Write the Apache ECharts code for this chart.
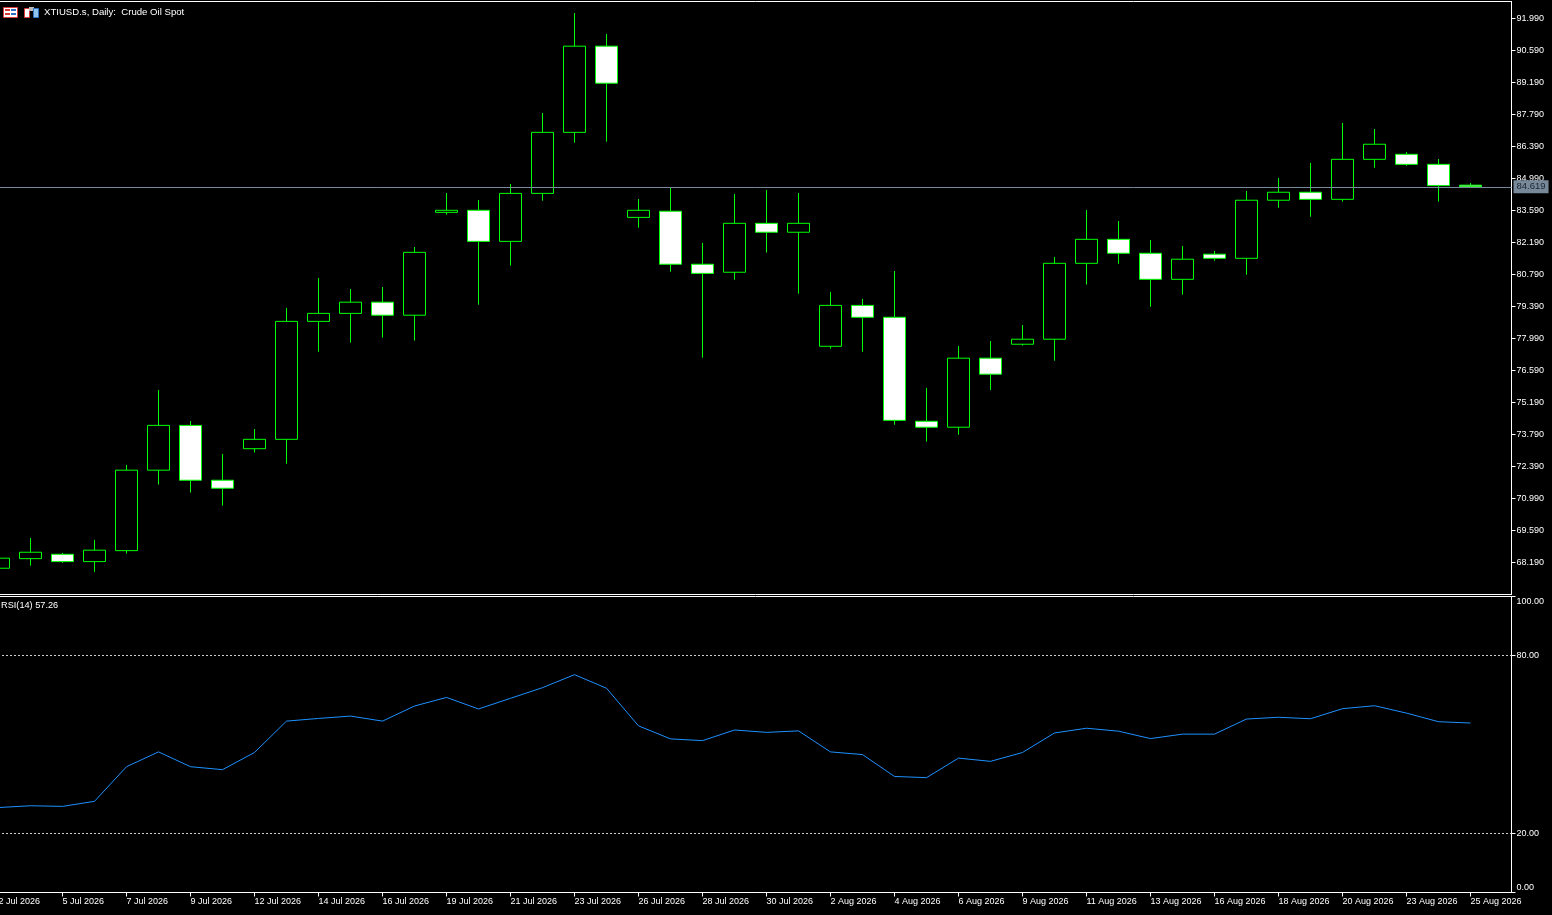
<!DOCTYPE html>
<html>
<head>
<meta charset="utf-8">
<script src="https://cdn.jsdelivr.net/npm/echarts@6/dist/echarts.min.js"></script>
<style>
  html, body { margin: 0; padding: 0; background: #000; }
  #c { width: 1552px; height: 915px; }
</style>
</head>
<body>
<div id="c"></div>
<script>
// ---- data ----
const dates = ['2 Jul 2026','3 Jul 2026','5 Jul 2026','6 Jul 2026','7 Jul 2026','8 Jul 2026','9 Jul 2026','10 Jul 2026',
  '12 Jul 2026','13 Jul 2026','14 Jul 2026','15 Jul 2026','16 Jul 2026','17 Jul 2026','19 Jul 2026','20 Jul 2026',
  '21 Jul 2026','22 Jul 2026','23 Jul 2026','24 Jul 2026','26 Jul 2026','27 Jul 2026','28 Jul 2026','29 Jul 2026',
  '30 Jul 2026','31 Jul 2026','2 Aug 2026','3 Aug 2026','4 Aug 2026','5 Aug 2026','6 Aug 2026','7 Aug 2026',
  '9 Aug 2026','10 Aug 2026','11 Aug 2026','12 Aug 2026','13 Aug 2026','14 Aug 2026','16 Aug 2026','17 Aug 2026',
  '18 Aug 2026','19 Aug 2026','20 Aug 2026','21 Aug 2026','23 Aug 2026','24 Aug 2026','25 Aug 2026'];

const opens  = [67.93,68.35,68.54,68.22,68.70,72.22,74.18,71.78,73.16,73.57,78.73,79.08,79.57,79.00,83.50,83.59,
  82.23,84.33,87.00,90.77,83.28,83.55,81.23,80.88,83.02,82.63,77.64,79.43,78.91,74.36,74.10,77.12,
  77.73,77.95,81.27,82.32,81.71,80.57,81.67,81.49,84.03,84.38,84.07,85.82,86.04,85.60,84.69];
const closes = [68.37,68.63,68.22,68.72,72.22,74.18,71.78,71.43,73.57,78.73,79.08,79.57,79.00,81.75,83.59,82.23,
  84.33,87.00,90.77,89.15,83.59,81.23,80.83,83.02,82.63,83.02,79.43,78.91,74.40,74.10,77.12,76.42,
  77.95,81.27,82.32,81.71,80.57,81.45,81.49,84.03,84.38,84.07,85.82,86.48,85.60,84.67,84.619];
const lows   = [67.85,68.04,68.17,67.77,68.57,71.59,71.24,70.67,72.99,72.50,77.40,77.80,78.02,77.89,83.40,79.46,
  81.17,84.01,86.55,86.59,82.83,80.90,77.14,80.55,81.74,79.94,77.54,77.40,74.21,73.47,73.77,75.73,
  77.67,77.01,80.34,81.25,79.37,79.90,81.39,80.77,83.70,83.31,83.97,85.45,85.54,83.97,84.58];
const highs  = [68.45,69.25,68.60,69.17,72.45,75.73,74.37,72.93,74.02,79.32,80.63,80.15,80.23,81.98,84.35,84.04,
  84.74,87.85,92.22,91.30,84.08,84.61,82.16,84.30,84.48,84.35,80.02,79.71,80.93,75.82,77.65,77.87,
  78.57,81.55,83.60,83.12,82.29,82.03,81.81,84.43,85.00,85.66,87.41,87.15,86.14,85.83,84.78];

const rsiValues = [28.7,29.3,29.1,30.8,42.5,47.5,42.5,41.5,47.3,57.9,58.8,59.6,57.9,63.0,65.9,62.0,
  65.6,69.2,73.6,69.0,56.3,51.9,51.3,54.9,54.1,54.6,47.5,46.6,39.2,38.8,45.4,44.3,
  47.3,53.9,55.5,54.5,52.0,53.5,53.5,58.6,59.2,58.7,62.1,63.1,60.6,57.7,57.26];

const priceTicks = [68.19,69.59,70.99,72.39,73.79,75.19,76.59,77.99,79.39,80.79,82.19,83.59,84.99,86.39,87.79,89.19,90.59,91.99];
const rsiTicks = [0,20,80,100];
const rsiLevels = [20,80];
const dateTickIdx = [0,2,4,6,8,10,12,14,16,18,20,22,24,26,28,30,32,34,36,38,40,42,44,46];

const titleText = 'XTIUSD.s, Daily:  Crude Oil Spot';
const rsiTitle = 'RSI(14) 57.26';
const lastPrice = closes[closes.length - 1];

// ---- chart ----
const FONT = 'Liberation Sans';
const chart = echarts.init(document.getElementById('c'), null, { renderer: 'canvas' });

const candleData = opens.map((o, i) => [i, o, closes[i], lows[i], highs[i]]);
const rsiData = rsiValues.map((v, i) => [i, v]);

// grid spans x = -2 .. 1511.5 px, 32 px per bar, bar i centred at -1.5 + 32 i
const xMin = -0.015625, xMax = 47.28125;

const option = {
  backgroundColor: '#000',
  animation: false,
  textStyle: { fontFamily: FONT },
  title: [
    { text: titleText, left: 44, top: 7, padding: 0,
      textStyle: { color: '#fff', fontSize: 9.6, fontWeight: 'normal', fontFamily: FONT } },
    { text: rsiTitle, left: 1, top: 601, padding: 0,
      textStyle: { color: '#fff', fontSize: 9.2, fontWeight: 'normal', fontFamily: FONT } }
  ],
  graphic: [
    { type: 'rect', shape: { x: 3.5, y: 7.5, width: 14, height: 10 }, style: { fill: '#fff', stroke: '#d83a3a', lineWidth: 1 } },
    { type: 'rect', shape: { x: 5, y: 9, width: 5, height: 2 }, style: { fill: '#d83a3a' } },
    { type: 'rect', shape: { x: 5, y: 13, width: 5, height: 2 }, style: { fill: '#d83a3a' } },
    { type: 'rect', shape: { x: 11, y: 9, width: 5, height: 2 }, style: { fill: '#2f6fc0' } },
    { type: 'rect', shape: { x: 11, y: 13, width: 5, height: 2 }, style: { fill: '#2f6fc0' } },
    { type: 'rect', shape: { x: 24.5, y: 8.5, width: 5, height: 9 }, style: { fill: '#fff', stroke: '#d83a3a', lineWidth: 1 } },
    { type: 'rect', shape: { x: 29, y: 7, width: 5, height: 4 }, style: { fill: '#bbbbbb' } },
    { type: 'rect', shape: { x: 33.5, y: 8.5, width: 5, height: 9 }, style: { fill: '#8fc4ee', stroke: '#2f6fc0', lineWidth: 1 } }
  ],
  grid: [
    { left: -2, right: 40.5, top: 1.5, height: 593, show: true, borderColor: '#fff', borderWidth: 1,
      backgroundColor: 'transparent', containLabel: false, outerBoundsMode: 'none' },
    { left: -2, right: 40.5, top: 596.5, height: 296, show: true, borderColor: '#fff', borderWidth: 1,
      backgroundColor: 'transparent', containLabel: false, outerBoundsMode: 'none' }
  ],
  xAxis: [
    { type: 'value', gridIndex: 0, min: xMin, max: xMax, show: false, splitLine: { show: false } },
    { type: 'value', gridIndex: 1, min: xMin, max: xMax,
      axisLine: { show: true, onZero: false, lineStyle: { color: '#fff', width: 1 } },
      axisTick: { show: true, customValues: dateTickIdx, length: 4, lineStyle: { color: '#fff' } },
      axisLabel: { show: true, customValues: dateTickIdx, formatter: v => dates[Math.round(v)] || '',
        color: '#fff', fontSize: 9, fontFamily: FONT, align: 'left', margin: 5, hideOverlap: false },
      splitLine: { show: false } }
  ],
  yAxis: [
    { type: 'value', gridIndex: 0, position: 'right', min: 66.781, max: 92.725, scale: true,
      axisLine: { show: true, onZero: false, lineStyle: { color: '#fff' } },
      axisTick: { show: true, customValues: priceTicks, length: 4, lineStyle: { color: '#fff' } },
      axisLabel: { show: true, customValues: priceTicks, formatter: v => v.toFixed(3),
        color: '#fff', fontSize: 9, fontFamily: FONT, margin: 5 },
      splitLine: { show: false } },
    { type: 'value', gridIndex: 1, position: 'right', min: 0, max: 100,
      axisLine: { show: true, onZero: false, lineStyle: { color: '#fff' } },
      axisTick: { show: true, customValues: rsiTicks, length: 4, lineStyle: { color: '#fff' } },
      axisLabel: { show: true, customValues: rsiTicks,
        formatter: v => v >= 100 ? '{t|' + v.toFixed(2) + '}' : (v <= 0 ? '{b|' + v.toFixed(2) + '}' : v.toFixed(2)),
        rich: { t: { padding: [10, 0, 0, 0], color: '#fff', fontSize: 9, fontFamily: FONT },
                b: { padding: [0, 0, 9, 0], color: '#fff', fontSize: 9, fontFamily: FONT } },
        color: '#fff', fontSize: 9, fontFamily: FONT, margin: 5 },
      splitLine: { show: false } }
  ],
  series: [
    { type: 'candlestick', xAxisIndex: 0, yAxisIndex: 0, data: candleData,
      encode: { x: 0, y: [1, 2, 3, 4] }, barWidth: 22, clip: false,
      itemStyle: { color: '#000', color0: '#fff', borderColor: '#00ff00', borderColor0: '#00ff00', borderWidth: 1 },
      markLine: { silent: true, symbol: ['none', 'none'], animation: false,
        lineStyle: { color: '#778899', width: 1, type: 'solid' },
        label: { show: true, position: 'end', formatter: () => lastPrice.toFixed(3), distance: 2,
          backgroundColor: '#778899', color: '#1b2530', fontSize: 9.5, fontFamily: FONT, padding: [2, 3, 1, 3] },
        data: [{ yAxis: lastPrice }] } },
    { type: 'line', xAxisIndex: 1, yAxisIndex: 1, data: rsiData, showSymbol: false, symbol: 'none',
      lineStyle: { color: '#1e90ff', width: 1 },
      markLine: { silent: true, symbol: ['none', 'none'], animation: false,
        lineStyle: { color: '#d0d0d0', width: 1, type: [2, 2] },
        label: { show: false },
        data: rsiLevels.map(v => ({ yAxis: v })) } }
  ]
};
chart.setOption(option);
</script>
</body>
</html>
